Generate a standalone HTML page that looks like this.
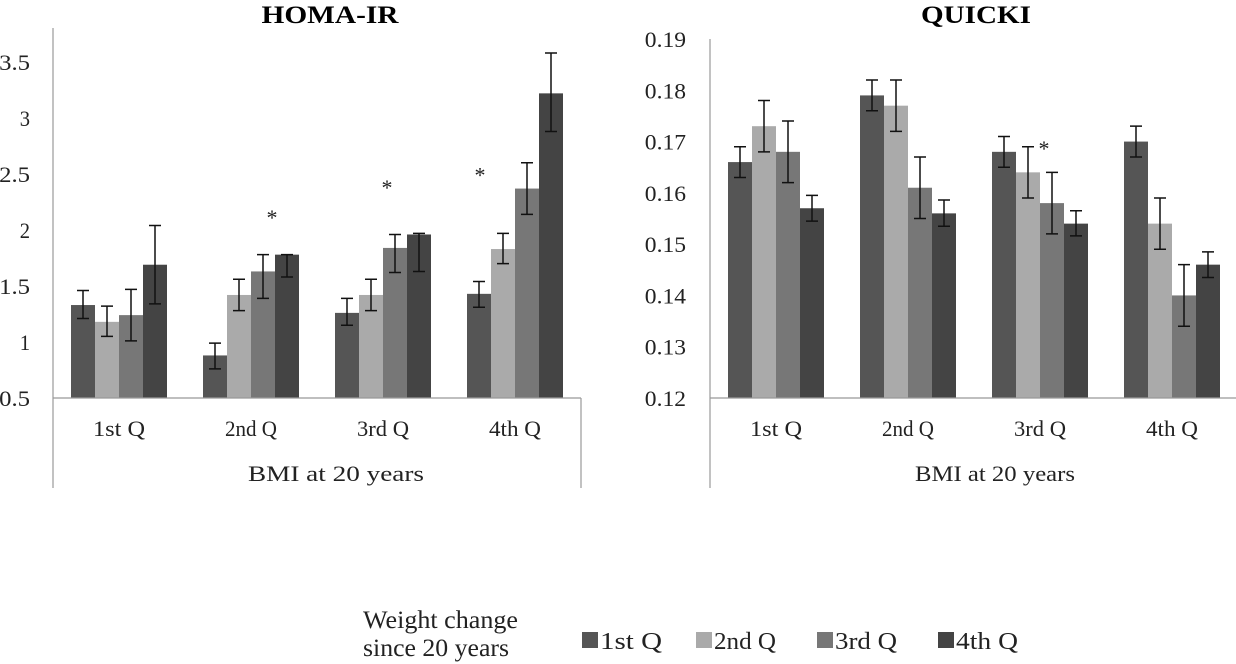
<!DOCTYPE html>
<html><head><meta charset="utf-8"><style>
html,body{margin:0;padding:0;background:#fff;}
svg{display:block;font-family:"Liberation Serif",serif;}
</style></head><body>
<svg width="1236" height="664" viewBox="0 0 1236 664">
<g id="left"></g>
<g id="right"></g>
<g id="legend"></g>
</svg>
<script>
const categories = ["1st Q","2nd Q","3rd Q","4th Q"];
const seriesNames = ["1st Q","2nd Q","3rd Q","4th Q"];
const homaValues = [[1.33,1.18,1.24,1.69],[0.88,1.42,1.63,1.78],[1.26,1.42,1.84,1.96],[1.43,1.83,2.37,3.22]];
const homaHi = [[1.46,1.32,1.47,2.04],[0.99,1.56,1.78,1.78],[1.39,1.56,1.96,1.97],[1.54,1.97,2.60,3.58]];
const homaLo = [[1.21,1.05,1.01,1.34],[0.76,1.28,1.39,1.58],[1.15,1.28,1.62,1.63],[1.31,1.70,2.14,2.88]];
const homaTicks = [0.5,1,1.5,2,2.5,3,3.5];
const homaTickLabels = ["0.5","1","1.5","2","2.5","3","3.5"];
const quickiValues = [[0.166,0.173,0.168,0.157],[0.179,0.177,0.161,0.156],[0.168,0.164,0.158,0.154],[0.170,0.154,0.140,0.146]];
const quickiHi = [[0.169,0.178,0.174,0.1595],[0.182,0.182,0.167,0.1586],[0.171,0.169,0.164,0.1565],[0.173,0.159,0.146,0.1485]];
const quickiLo = [[0.163,0.168,0.162,0.1545],[0.176,0.172,0.155,0.1535],[0.165,0.159,0.152,0.1516],[0.167,0.149,0.134,0.1435]];
const quickiTicks = [0.12,0.13,0.14,0.15,0.16,0.17,0.18,0.19];
const quickiTickLabels = ["0.12","0.13","0.14","0.15","0.16","0.17","0.18","0.19"];
const homaStars = [null,2.15,2.42,2.53];
const quickiStars = [null,null,0.1695,null];
const colors = ["#555555","#aaaaaa","#777777","#444444"];
const NS="http://www.w3.org/2000/svg";
function mk(parent,tag,attrs,text){const e=document.createElementNS(NS,tag);for(const k in attrs)e.setAttribute(k,attrs[k]);if(text!==undefined)e.textContent=text;parent.appendChild(e);return e;}
function fit(e,len){e.setAttribute('textLength',len);e.setAttribute('lengthAdjust','spacingAndGlyphs');}

function drawChart(g,cfg){
  const x0=cfg.x0, x1=cfg.x1, base=398;
  const y=v=>base-(v-cfg.min)/(cfg.max-cfg.min)*(base-cfg.topY);
  const step=(x1-x0)/categories.length, bw=24;
  const t=mk(g,'text',{x:cfg.titleX,y:23,'text-anchor':'middle','font-size':'25','font-weight':'bold',fill:'#000'},cfg.title);
  fit(t,cfg.titleLen);
  
  
  cfg.ticks.forEach((v,i)=>{
    const l=mk(g,'text',{x:cfg.labelX,y:y(v)+8,'text-anchor':'end','font-size':'22',fill:'#222'},cfg.tickLabels[i]);
    fit(l,cfg.tickLabels[i].length*10.3);
    
    
  });
  categories.forEach((c,ci)=>{
    const cx=x0+step*(ci+0.5);
    cfg.values[ci].forEach((v,si)=>{
      const bx=cx-2*bw+si*bw;
      const r=mk(g,'rect',{x:bx,y:y(v),width:bw,height:base-y(v),fill:colors[si]});
      
      
      const mx=bx+bw/2, hi=y(cfg.hi[ci][si]), lo=y(cfg.lo[ci][si]);
      const e=mk(g,'path',{d:`M${mx},${hi}V${lo}M${mx-6},${hi}H${mx+6}M${mx-6},${lo}H${mx+6}`,stroke:'#111','stroke-width':'1.5',fill:'none'});
      
      
    });
    const lab=mk(g,'text',{x:cx,y:436,'text-anchor':'middle','font-size':'22',fill:'#222'},c);
    fit(lab,c.length===5?52:56);
    
    
    if(cfg.stars[ci]!==null){
      const s=mk(g,'text',{x:cfg.starX[ci],y:y(cfg.stars[ci])+12,'text-anchor':'middle','font-size':'22',fill:'#222'},'*');
      
      
    }
  });
  const ax=mk(g,'path',{d:`M${x0},${cfg.axisTop}V488M${x0},${base}H${x1}`+(cfg.rightBorder?`M${x1},${base}V488`:''),stroke:'#999','stroke-width':'1.2',fill:'none'});
  
  
  const xt=mk(g,'text',{x:cfg.xTitleX,y:481,'text-anchor':'middle','font-size':'22',fill:'#222'},'BMI at 20 years');
  fit(xt,cfg.xTitleLen);
  
  
}
drawChart(document.getElementById('left'),{x0:53,x1:581,topY:62,min:0.5,max:3.5,axisTop:28,title:'HOMA-IR',titleX:330,titleLen:137,labelX:30,ticks:homaTicks,tickLabels:homaTickLabels,values:homaValues,hi:homaHi,lo:homaLo,stars:homaStars,starX:[0,272,387,480],rightBorder:true,xTitleX:336,xTitleLen:176});
drawChart(document.getElementById('right'),{x0:710,x1:1238,topY:39,min:0.12,max:0.19,axisTop:39,title:'QUICKI',titleX:976,titleLen:110,labelX:686,ticks:quickiTicks,tickLabels:quickiTickLabels,values:quickiValues,hi:quickiHi,lo:quickiLo,stars:quickiStars,starX:[0,0,1044,0],rightBorder:false,xTitleX:995,xTitleLen:160});

const lg=document.getElementById('legend');
const t1=mk(lg,'text',{x:363,y:628,'font-size':'25',fill:'#222'},'Weight change');
fit(t1,155);


const t2=mk(lg,'text',{x:363,y:656,'font-size':'25',fill:'#222'},'since 20 years');
fit(t2,146);


const lx=[582,696,817,938];
seriesNames.forEach((n,i)=>{
  const r=mk(lg,'rect',{x:lx[i],y:632,width:16,height:16,fill:colors[i]});
  
  
  const tx=mk(lg,'text',{x:lx[i]+18,y:649,'font-size':'24',fill:'#222'},n);
  fit(tx,n.length===5?62:66);
  
  
});
</script>
</body></html>
